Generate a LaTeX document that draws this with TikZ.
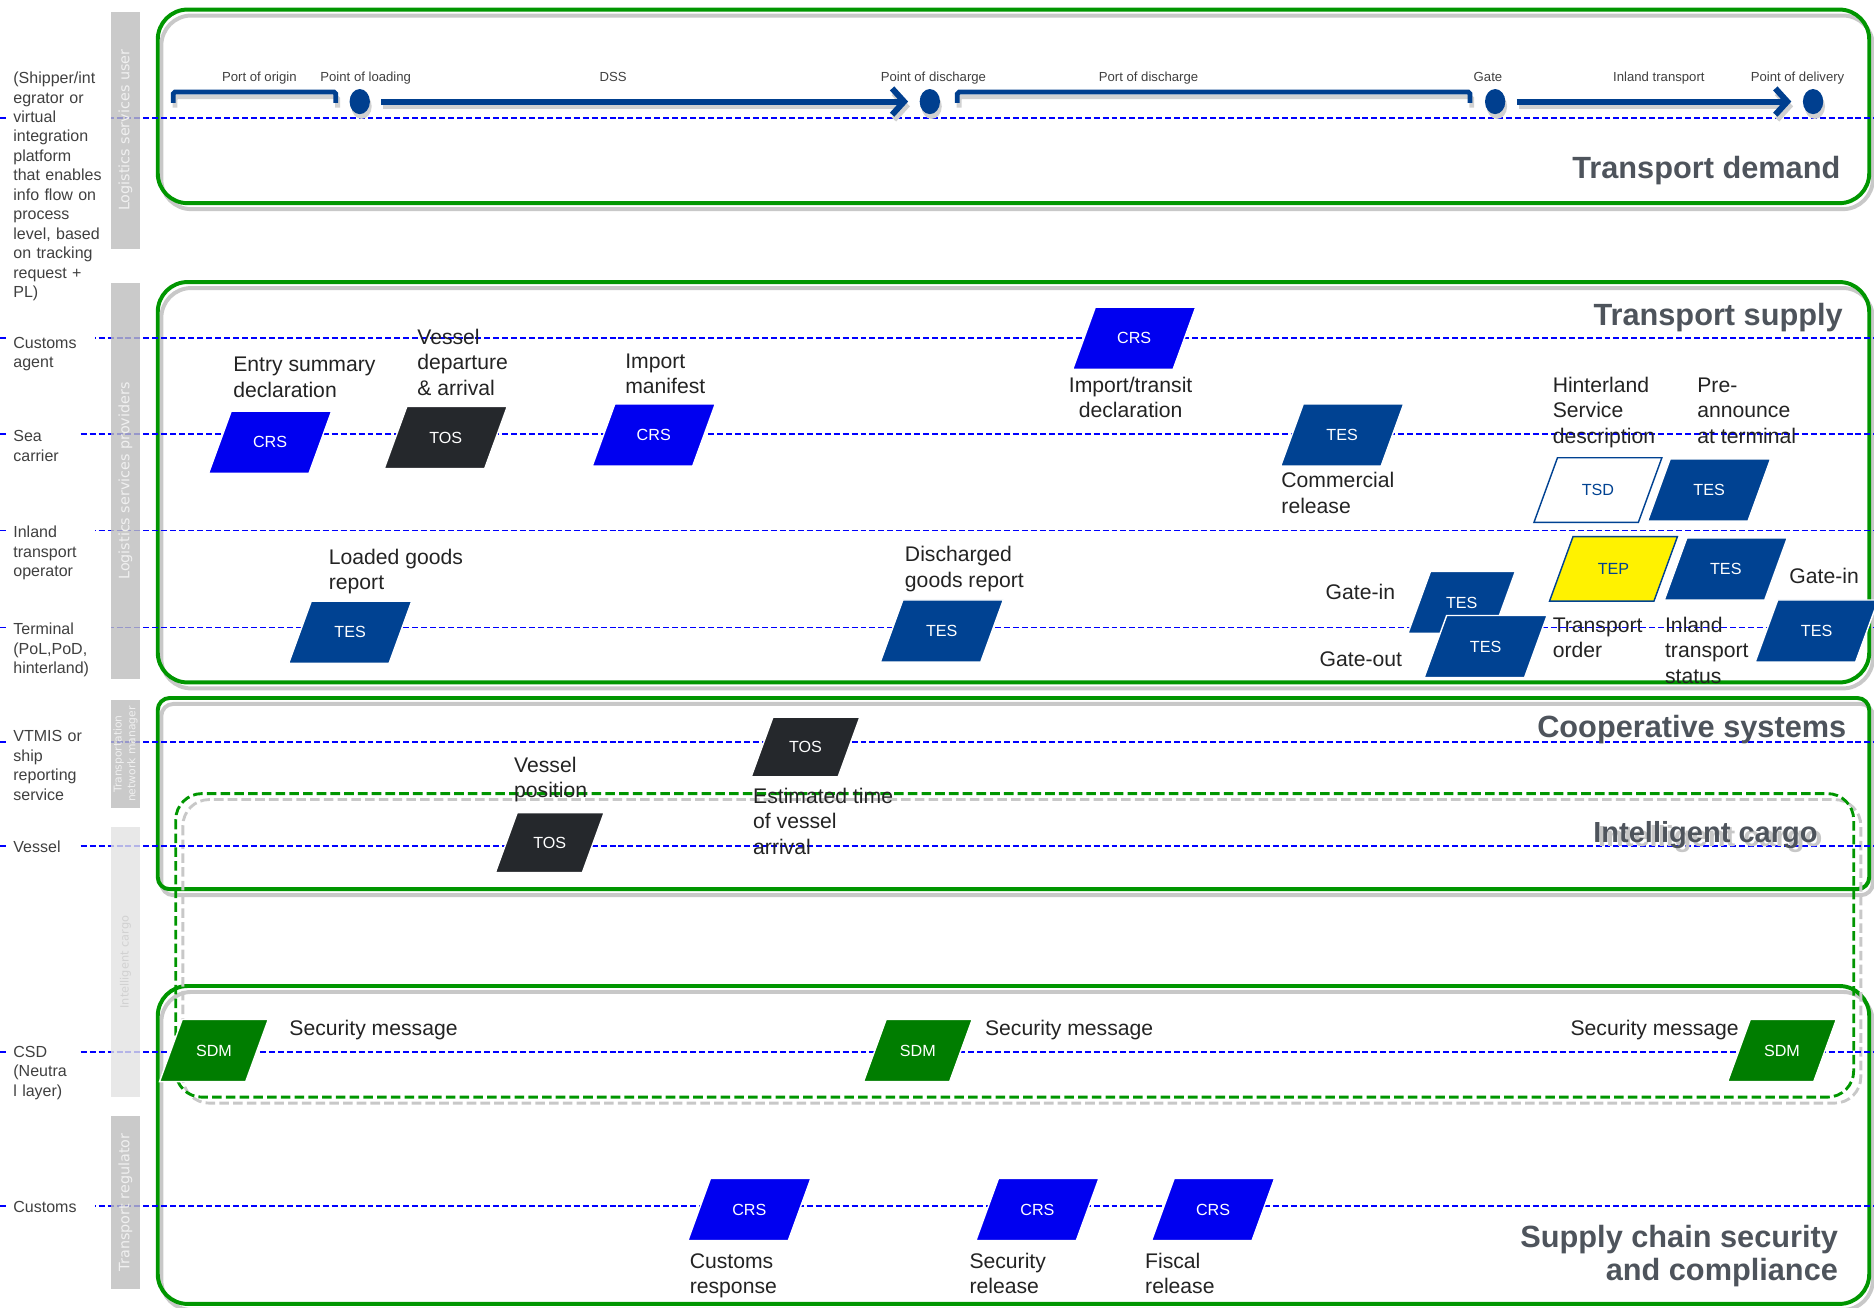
\documentclass[tikz,border=0pt]{standalone}
\usepackage{fontspec}
\setmainfont{Liberation Sans}
\newfontfamily\barfont{DejaVu Sans}
\usetikzlibrary{shapes.geometric,arrows.meta}

\definecolor{lineblue}{RGB}{0,0,255}
\definecolor{tesblue}{RGB}{0,66,146}
\definecolor{crsblue}{RGB}{0,0,240}
\definecolor{tosgray}{RGB}{37,40,44}
\definecolor{sdmgreen}{RGB}{0,125,0}
\definecolor{boxgreen}{RGB}{0,150,0}
\definecolor{barfill}{RGB}{189,189,189}
\definecolor{barlight}{RGB}{226,226,226}
\definecolor{titlegray}{RGB}{78,84,92}
\definecolor{labelgray}{RGB}{35,35,35}
\definecolor{sidegray}{RGB}{64,64,64}
\definecolor{shadowgray}{RGB}{200,200,200}
\definecolor{tlblue}{RGB}{0,63,143}

\begin{document}
\begin{tikzpicture}[x=1pt,y=-1pt,
  panel/.style={draw=boxgreen, line width=3.3pt},
  panelshadow/.style={draw=shadowgray, line width=3.3pt},
  rowline/.style={draw=lineblue, line width=1.4pt, dash pattern=on 5pt off 2.5pt},
  bar/.style={fill=barfill, fill opacity=0.8, text opacity=1, text=white!94!black,
    rotate=90, minimum height=24pt, inner sep=0pt,
    font=\barfont\fontsize{12}{14}\selectfont},
  side/.style={fill=white, anchor=north west, align=left, inner xsep=5pt,
    inner ysep=2pt, text=sidegray, font=\fontsize{13.4}{16.3}\selectfont},
  % parallelogram message boxes: the text box sets the height (and so the slant)
  pgram/.style={trapezium, trapezium left angle=70, trapezium right angle=110,
    trapezium stretches body=true, minimum width=103pt,
    text height=30.8pt, text depth=21.2pt,
    inner sep=0pt, draw=white, line width=1.2pt, text=white,
    font=\fontsize{13.5}{16}\selectfont},
  low/.style={text height=29.8pt, text depth=20.2pt},
  tall/.style={text height=31.8pt, text depth=22.2pt},
  crs/.style={pgram, fill=crsblue},
  tes/.style={pgram, fill=tesblue},
  tos/.style={pgram, fill=tosgray},
  sdm/.style={pgram, fill=sdmgreen, minimum width=91pt},
  tsd/.style={pgram, tall, fill=white, draw=tesblue, text=tesblue, minimum width=107pt},
  tep/.style={pgram, tall, fill=yellow, draw=tesblue, text=tesblue, minimum width=107pt},
  lbl/.style={font=\fontsize{17.7}{21.5}\selectfont, text=labelgray, align=left,
    inner sep=0pt, anchor=base west},
  title/.style={font=\fontsize{25.7}{27}\selectfont\bfseries, text=titlegray,
    inner sep=0pt, anchor=base east, align=right},
  tllabel/.style={font=\fontsize{11}{13}\selectfont, text=sidegray, anchor=base, inner sep=0pt},
  dot/.style={ellipse, fill=tlblue, minimum width=17pt, minimum height=21pt, inner sep=0pt},
  dotshadow/.style={ellipse, fill=black!18, minimum width=17pt, minimum height=21pt, inner sep=0pt},
  tl/.style={draw=tlblue, line width=4pt, rounded corners=1.5pt},
  tlarrow/.style={draw=tlblue, line width=5pt, -{Straight Barb[length=10pt,width=22pt]},
    shorten <=9.5pt, shorten >=9.5pt},
  shade/.style={draw=black!18, transform canvas={shift={(1.5pt,-4pt)}}}
]
\useasboundingbox (0,0) rectangle (1568,1094);

% ---- panels ----
\draw[panelshadow, rounded corners=25pt] (135,13) rectangle (1567,175);
\draw[panel, rounded corners=25pt] (132,8) rectangle (1564,170);
\draw[panelshadow, rounded corners=25pt] (135,241) rectangle (1567,576);
\draw[panel, rounded corners=25pt] (132,236) rectangle (1564,571);
\draw[panelshadow, rounded corners=10pt] (135,589) rectangle (1567,749);
\draw[panel, rounded corners=10pt] (132,584) rectangle (1564,744);
\draw[panelshadow, rounded corners=25pt] (135,830) rectangle (1567,1096);
\draw[panel, rounded corners=25pt] (132,825) rectangle (1564,1091);
% intelligent cargo (dashed)
\draw[draw=shadowgray, line width=2.4pt, dash pattern=on 8pt off 3.5pt, rounded corners=22pt]
  (153,669) rectangle (1557,923);
\draw[draw=boxgreen, line width=2.4pt, dash pattern=on 8pt off 3.5pt, rounded corners=22pt]
  (147,664) rectangle (1551,918);

% ---- swimlane rows ----
\foreach \yy in {99,283,363,444,525,621,708,880,1009}
  \draw[rowline] (0,\yy) -- (1568,\yy);

% ---- actor labels ----
\node[side, text width=77pt] (sShip) at (6,58) {(Shipper/int\\egrator or\\virtual\\integration\\platform\\that enables\\info flow on\\process\\level, based\\on tracking\\request +\\PL)};
\node[side, text width=63pt] (sCust) at (6,280) {Customs\\agent};
\node[side, text width=49pt] (sSea) at (6,358) {Sea\\carrier};
\node[side, text width=63pt] (sInland) at (6,438) {Inland\\transport\\operator};
\node[side, text width=77pt] (sTerm) at (6,519) {Terminal\\(PoL,PoD,\\hinterland)};
\node[side, text width=77pt] (sVtmis) at (6,609) {VTMIS or\\ship\\reporting\\service};
\node[side, text width=49pt] (sVessel) at (6,701) {Vessel};
\node[side, text width=49pt] (sCsd) at (6,873) {CSD\\(Neutra\\l layer)};
\node[side, text width=63pt] (sCustoms) at (6,1003) {Customs};

% ---- role bars ----
\node[bar, minimum width=198pt] (barUser) at (105,109) {Logistics services user};
\node[bar, minimum width=331pt] (barProv) at (105,402.5) {Logistics services providers};
\node[bar, minimum width=90pt, align=center, font=\barfont\fontsize{9}{11.5}\selectfont] (barNet) at (105,631) {Transportation\\network manager};
\node[bar, fill=barlight, text=black!18, minimum width=226pt, font=\barfont\fontsize{9.5}{11}\selectfont] (barCargo) at (105,805) {Intelligent cargo};
\node[bar, minimum width=145pt] (barReg) at (105,1006) {Transport regulator};

% ---- transport demand timeline ----
\node[tllabel] (tPo) at (217,68) {Port of origin};
\node[tllabel] (tPl) at (306,68) {Point of loading};
\node[tllabel] (tDss) at (513,68) {DSS};
\node[tllabel] (tPd) at (781,68) {Point of discharge};
\node[tllabel] (tPod) at (961,68) {Port of discharge};
\node[tllabel] (tGate) at (1245,68) {Gate};
\node[tllabel] (tInl) at (1388,68) {Inland transport};
\node[tllabel] (tDel) at (1504,68) {Point of delivery};

\node[dotshadow] (d1s) at (302.5,89) {};
\node[dotshadow] (d2s) at (779.5,89) {};
\node[dotshadow] (d3s) at (1252.5,89) {};
\node[dotshadow] (d4s) at (1518.5,89) {};
\node[dot] (d1) at (301,85) {};
\node[dot] (d2) at (778,85) {};
\node[dot] (d3) at (1251,85) {};
\node[dot] (d4) at (1517,85) {};

\draw[tl, shade] (145,86) -- (145,77) -- (281,77) -- (281,86);
\draw[tl] (145,86) -- (145,77) -- (281,77) -- (281,86);
\draw[tl, shade] (801,86) -- (801,77) -- (1230,77) -- (1230,86);
\draw[tl] (801,86) -- (801,77) -- (1230,77) -- (1230,86);
\draw[tlarrow, shade] (d1) -- (d2);
\draw[tlarrow] (d1) -- (d2);
\draw[tlarrow, shade] (d3) -- (d4);
\draw[tlarrow] (d3) -- (d4);

% ---- messages: transport supply ----
\node[crs] (crsA) at (226,370) {CRS};
\node[tos] (tosA) at (373,366) {TOS};
\node[crs] (crsB) at (547,364) {CRS};
\node[crs] (crsC) at (949,283) {CRS};
\node[tes] (tesA) at (1123,364) {TES};
\node[tsd] (tsd) at (1337,410) {TSD};
\node[tes] (tesB) at (1430,410) {TES};
\node[tep] (tep) at (1350,476) {TEP};
\node[tes] (tesC) at (1444,476) {TES};
\node[tes] (tesD) at (1520,528) {TES};
\node[tes, minimum width=90pt] (tesE) at (1223,504) {TES};
\node[tes] (tesF) at (1243,541) {TES};
\node[tes] (tesG) at (293,529) {TES};
\node[tes] (tesH) at (788,528) {TES};

% ---- messages: cooperative systems ----
\node[tos, low, minimum width=91pt] (tosB) at (674,625) {TOS};
\node[tos, low, minimum width=91pt] (tosC) at (460,705) {TOS};

% ---- messages: supply chain security ----
\node[sdm] (sdmA) at (179,879) {SDM};
\node[sdm] (sdmB) at (768,879) {SDM};
\node[sdm] (sdmC) at (1491,879) {SDM};
\node[crs] (crsD) at (627,1012) {CRS};
\node[crs] (crsE) at (868,1012) {CRS};
\node[crs] (crsF) at (1015,1012) {CRS};

% ---- message captions (anchored on the baseline of their last line) ----
\node[lbl] (lEntry) at (195,332.5) {Entry summary\\declaration};
\node[lbl] (lVdep) at (349,331) {Vessel\\departure\\\& arrival};
\node[lbl] (lImp) at (523,329.5) {Import\\manifest};
\node[lbl, anchor=base, align=center] (lTransit) at (946,349.5) {Import/transit\\declaration};
\node[lbl] (lComm) at (1072,429.5) {Commercial\\release};
\node[lbl] (lHint) at (1299,371) {Hinterland\\Service\\description};
\node[lbl] (lPre) at (1420,371) {Pre-\\announce\\at terminal};
\node[lbl] (lLoad) at (275,493.5) {Loaded goods\\report};
\node[lbl] (lDisc) at (757,491.5) {Discharged\\goods report};
\node[lbl] (lGin) at (1109,502) {Gate-in};
\node[lbl] (lGout) at (1104,558) {Gate-out};
\node[lbl] (lTord) at (1299,550.5) {Transport\\order};
\node[lbl] (lIts) at (1393,572) {Inland\\transport\\status};
\node[lbl] (lGin2) at (1497,488) {Gate-in};
\node[lbl] (lVpos) at (430,667.5) {Vessel\\position};
\node[lbl] (lEta) at (630,715) {Estimated time\\of vessel\\arrival};
\node[lbl] (lSm1) at (242,866) {Security message};
\node[lbl] (lSm2) at (824,866) {Security message};
\node[lbl, anchor=base east] (lSm3) at (1455,866) {Security message};
\node[lbl] (lCr) at (577,1082.5) {Customs\\response};
\node[lbl] (lSr) at (811,1082.5) {Security\\release};
\node[lbl] (lFr) at (958,1082.5) {Fiscal\\release};

% ---- layer titles ----
\node[title] (hDemand) at (1540,149) {Transport demand};
\node[title] (hSupply) at (1542,272) {Transport supply};
\node[title] (hCoop) at (1545,617) {Cooperative systems};
\node[title, text=black!22, font=\fontsize{24.3}{27}\selectfont\bfseries] (hCargoS) at (1525,708.5) {Intelligent cargo};
\node[title, font=\fontsize{24.3}{27}\selectfont\bfseries] (hCargo) at (1521,705) {Intelligent cargo};
\node[title] (hScs) at (1538,1071) {Supply chain security\\and compliance};
\end{tikzpicture}
\end{document}
